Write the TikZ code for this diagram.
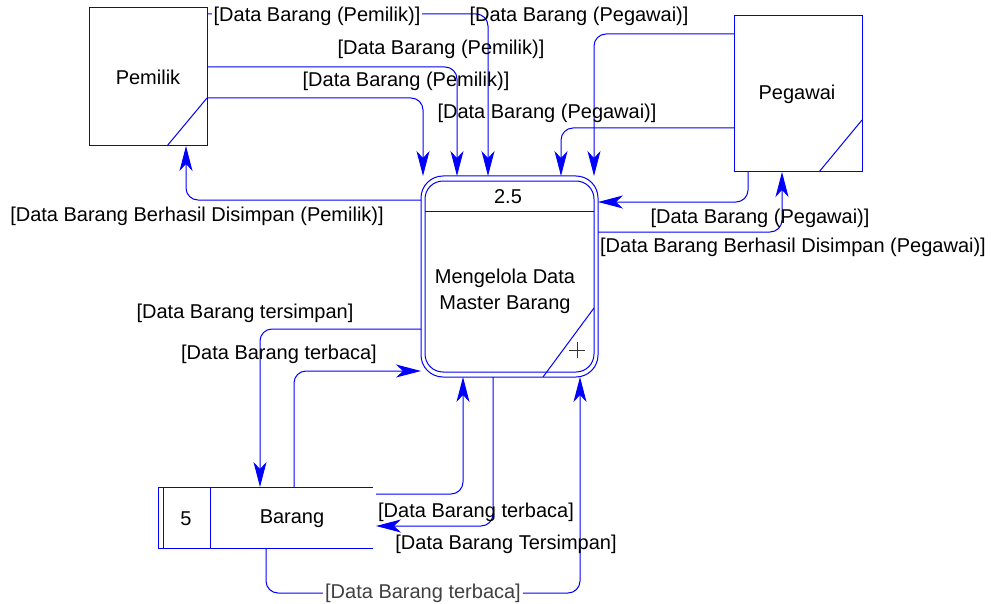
\documentclass[tikz,border=0pt]{standalone}
\usepackage{fontspec}
\setmainfont{Liberation Sans}
\usetikzlibrary{arrows.meta}
\definecolor{dfdblue}{RGB}{0,0,255}
\begin{document}
\begin{tikzpicture}[x=1pt,y=-1pt,
  flowc/.style={draw=dfdblue, line width=1pt, rounded corners=12pt, -{Stealth[length=25pt,width=13pt,inset=7pt]}},
  edge/.style={draw=dfdblue, line width=1pt},
  lbl/.style={font=\fontsize{20}{24}\selectfont, inner sep=1pt, text=black, yshift=-2pt},
  ent/.style={draw=dfdblue, line width=1pt, inner sep=0pt, outer sep=0pt, font=\fontsize{20}{24}\selectfont},
]
\useasboundingbox (0,0) rectangle (992,604);
\fill[white] (0,0) rectangle (992,604);

% external entities
\node[ent, minimum width=118pt, minimum height=138pt] (pemilik) at (148,77) {};
\node[lbl] (pemiliktxt) at (148,75) {Pemilik};
\draw[edge] (pemilik.east |- 0,98) -- (167,0 |- pemilik.south);

\node[ent, minimum width=128pt, minimum height=156pt] (pegawai) at (798,94) {};
\node[lbl] (pegawaitxt) at (797,92) {Pegawai};
\draw[edge] (pegawai.east |- 0,120) -- (819,0 |- pegawai.south);

% process
\node[ent, rounded corners=22pt, minimum width=177pt, minimum height=201pt] (proc) at (509.5,276.5) {};
\draw[edge, rounded corners=18pt] (425,181) rectangle (594,372);
\draw[edge] (425,211) -- (594,211);
\node[lbl] (procid) at (508,195) {2.5};
\node[lbl, align=center, font=\fontsize{20}{26}\selectfont] (proctxt) at (505,289) {Mengelola Data\\Master Barang};
\draw[edge] (594,308) -- (543,0 |- proc.south);
\draw[black!80, line width=0.9pt] (569,350) -- (585,350) (577,342) -- (577,358);

% data store
\node[inner sep=0pt, outer sep=0pt, minimum width=215pt, minimum height=61pt] (store) at (265.5,517.5) {};
\draw[edge] (store.north east) -- (store.north west) -- (store.south west) -- (store.south east);
\draw[edge] (163,0 |- store.north) -- (163,0 |- store.south);
\draw[edge] (210,0 |- store.north) -- (210,0 |- store.south);
\node[lbl] (storeid) at (186,517) {5};
\node[lbl] (storetxt) at (292,517) {Barang};

% flows Pemilik -> process
\draw[flowc] (pemilik.east |- 0,14) -- (488,14) -- (488,0 |- proc.north);
\draw[flowc] (pemilik.east |- 0,67) -- (457,67) -- (457,0 |- proc.north);
\draw[flowc] (pemilik.east |- 0,98) -- (423,98) -- (423,0 |- proc.north);
% process -> Pemilik
\draw[flowc] (proc.west |- 0,200) -- (186,200) -- (186,0 |- pemilik.south);

% Pegawai -> process
\draw[flowc] (pegawai.west |- 0,34) -- (594,34) -- (594,0 |- proc.north);
\draw[flowc] (pegawai.west |- 0,128) -- (561,128) -- (561,0 |- proc.north);
\draw[flowc] (748,0 |- pegawai.south) -- (748,202) -- (proc.east |- 0,202);
% process -> Pegawai
\draw[flowc] (proc.east |- 0,232) -- (782,232) -- (782,0 |- pegawai.south);

% process <-> store
\draw[flowc] (proc.west |- 0,329) -- (260,329) -- (260,0 |- store.north);
\draw[flowc] (294,0 |- store.north) -- (294,371) -- (proc.west |- 0,371);
\draw[flowc] (376,494) -- (463,494) -- (463,0 |- proc.south);
\draw[flowc] (493,0 |- proc.south) -- (493,526) -- (376,526);
\draw[flowc] (266,0 |- store.south) -- (266,593) -- (580,593) -- (580,0 |- proc.south);

% labels
\node[lbl, fill=white, inner xsep=2pt] (l1) at (317,14) {[Data Barang (Pemilik)]};
\node[lbl] (l2) at (441,47) {[Data Barang (Pemilik)]};
\node[lbl] (l3) at (406,79) {[Data Barang (Pemilik)]};
\node[lbl] (l4) at (579,14) {[Data Barang (Pegawai)]};
\node[lbl] (l5) at (547,111) {[Data Barang (Pegawai)]};
\node[lbl] (l6) at (197,214) {[Data Barang Berhasil Disimpan (Pemilik)]};
\node[lbl] (l7) at (760,216) {[Data Barang (Pegawai)]};
\node[lbl] (l8) at (793,245) {[Data Barang Berhasil Disimpan (Pegawai)]};
\node[lbl] (l9) at (245,311) {[Data Barang tersimpan]};
\node[lbl] (l10) at (279,352) {[Data Barang terbaca]};
\node[lbl] (l11) at (476,510) {[Data Barang terbaca]};
\node[lbl] (l12) at (506,542) {[Data Barang Tersimpan]};
\node[lbl, fill=white, text=black!75, inner xsep=2pt, yshift=2pt] (l13) at (423,593) {[Data Barang terbaca]};
\end{tikzpicture}
\end{document}
